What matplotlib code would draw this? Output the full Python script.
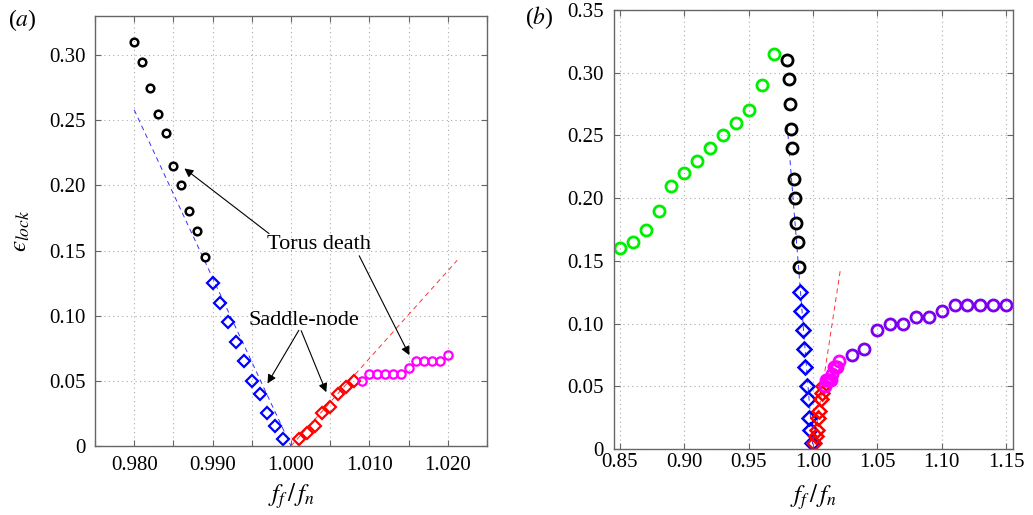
import matplotlib
matplotlib.use("Agg")
import matplotlib.pyplot as plt
import numpy as np

plt.rcParams['font.family'] = ['Liberation Serif', 'DejaVu Serif']
plt.rcParams['mathtext.fontset'] = 'stix'

# ---- data ----
black_x = [0.980, 0.981, 0.982, 0.983, 0.984, 0.985, 0.986, 0.987, 0.988, 0.989]
black_y = [0.310, 0.295, 0.275, 0.255, 0.240, 0.215, 0.200, 0.180, 0.165, 0.145]

blue_x = [0.990, 0.991, 0.992, 0.993, 0.994, 0.995, 0.996, 0.997, 0.998, 0.999]
blue_y = [0.125, 0.110, 0.095, 0.080, 0.065, 0.050, 0.040, 0.025, 0.015, 0.005]

red_x = [1.001, 1.002, 1.003, 1.004, 1.005, 1.006, 1.007, 1.008]
red_y = [0.005, 0.010, 0.015, 0.025, 0.030, 0.040, 0.045, 0.050]

mag_x = [1.009, 1.010, 1.011, 1.012, 1.013, 1.014, 1.015, 1.016, 1.017, 1.018, 1.019, 1.020]
mag_y = [0.050, 0.055, 0.055, 0.055, 0.055, 0.055, 0.060, 0.065, 0.065, 0.065, 0.065, 0.070]

green_x = [0.85, 0.86, 0.87, 0.88, 0.89, 0.90, 0.91, 0.92, 0.93, 0.94, 0.95, 0.96, 0.97]
green_y = [0.160, 0.165, 0.175, 0.190, 0.210, 0.220, 0.230, 0.240, 0.250, 0.260, 0.270, 0.290, 0.315]

purple_x = [1.03, 1.04, 1.05, 1.06, 1.07, 1.08, 1.09, 1.10, 1.11, 1.12, 1.13, 1.14, 1.15]
purple_y = [0.075, 0.080, 0.095, 0.100, 0.100, 0.105, 0.105, 0.110, 0.115, 0.115, 0.115, 0.115, 0.115]

blue_fit_x = [0.980, 1.000]
blue_fit_y = [0.258, 0.000]
red_fit_x = [1.000, 1.0212]
red_fit_y = [0.000, 0.1425]

xticks_a = [0.975, 0.980, 0.985, 0.990, 0.995, 1.000, 1.005, 1.010, 1.015, 1.020, 1.025]
xticklabels_a = ['', '0.980', '', '0.990', '', '1.000', '', '1.010', '', '1.020', '']
yticks_a = [0, 0.05, 0.10, 0.15, 0.20, 0.25, 0.30]
yticklabels_a = ['0', '0.05', '0.10', '0.15', '0.20', '0.25', '0.30']
xticks_b = [0.85, 0.90, 0.95, 1.00, 1.05, 1.10, 1.15]
xticklabels_b = ['0.85', '0.90', '0.95', '1.00', '1.05', '1.10', '1.15']
yticks_b = [0, 0.05, 0.10, 0.15, 0.20, 0.25, 0.30, 0.35]
yticklabels_b = ['0', '0.05', '0.10', '0.15', '0.20', '0.25', '0.30', '0.35']

PURPLE = '#7b00f0'
FS = 15

fig = plt.figure(figsize=(10.33, 5.15), dpi=100)
axa = fig.add_axes([95/1033, 1-446/515, 392/1033, 430/515])
axb = fig.add_axes([613.5/1033, 1-449/515, 399/1033, 439/515])


def style(ax):
    for s in ax.spines.values():
        s.set_color('#666666')
        s.set_linewidth(1.0)
    ax.tick_params(direction='in', top=True, right=True, length=4, width=0.8,
                   color='#666666', labelsize=FS, pad=7)
    ax.grid(True, linestyle=(0, (1, 3)), color='#aaaaaa', linewidth=0.8)
    ax.set_axisbelow(True)


XLABEL = r'$f_f\,/\,f_n$'

# ---- panel a ----
ax = axa
style(ax)
ax.plot(blue_fit_x, blue_fit_y, linestyle=(0, (5, 4)), color='#3333ff', lw=0.7)
ax.plot(red_fit_x, red_fit_y, linestyle=(0, (5, 4)), color='#ff3333', lw=0.7)
ax.plot(black_x, black_y, 'o', mfc='none', mec='black', ms=5.5, mew=1.8)
ax.plot(blue_x, blue_y, 'D', mfc='none', mec='#0000ff', ms=6, mew=1.6)
ax.plot(red_x, red_y, 'D', mfc='none', mec='#ff0000', ms=6, mew=1.6)
ax.plot(mag_x, mag_y, 'o', mfc='none', mec='#ff00ff', ms=6, mew=1.6)
ax.set_xlim(0.975, 1.025)
ax.set_ylim(0, 0.33)
ax.set_xticks(xticks_a)
ax.set_xticklabels(xticklabels_a)
ax.set_yticks(yticks_a)
ax.set_yticklabels(yticklabels_a)
ax.set_xlabel(XLABEL, fontsize=18, labelpad=5)
ax.set_ylabel('$\u03f5_{lock}$', fontsize=18, labelpad=12)

arw = dict(arrowstyle='-|>', color='black', lw=0.8, mutation_scale=13,
           shrinkA=0, shrinkB=0)
ax.text(1.0035, 0.1547, 'Torus death', fontsize=16, ha='center', va='center')
ax.annotate('', xy=(0.9864, 0.213), xytext=(0.9972, 0.163), arrowprops=arw)
ax.annotate('', xy=(1.0151, 0.0697), xytext=(1.0087, 0.146), arrowprops=arw)
ax.text(1.0016, 0.0965, 'Saddle-node', fontsize=16, ha='center', va='center')
ax.annotate('', xy=(0.997, 0.048), xytext=(1.001, 0.0888), arrowprops=arw)
ax.annotate('', xy=(1.0045, 0.0413), xytext=(1.0013, 0.0885), arrowprops=arw)

# ---- panel b ----
ax = axb
style(ax)
ax.plot(blue_fit_x, blue_fit_y, linestyle=(0, (5, 4)), color='#3333ff', lw=0.7)
ax.plot(red_fit_x, red_fit_y, linestyle=(0, (5, 4)), color='#ff3333', lw=0.7)
ax.plot(green_x, green_y, 'o', mfc='none', mec='#00ee00', ms=8, mew=2)
ax.plot(black_x, black_y, 'o', mfc='none', mec='black', ms=8, mew=2)
ax.plot(blue_x, blue_y, 'D', mfc='none', mec='#0000ff', ms=7.5, mew=1.8)
ax.plot(red_x, red_y, 'D', mfc='none', mec='#ff0000', ms=7.5, mew=1.8)
ax.plot(mag_x, mag_y, 'o', mfc='none', mec='#ff00ff', ms=8, mew=2)
ax.plot(purple_x, purple_y, 'o', mfc='none', mec=PURPLE, ms=8, mew=2)
ax.set_xlim(0.845, 1.155)
ax.set_ylim(0, 0.35)
ax.set_xticks(xticks_b)
ax.set_xticklabels(xticklabels_b)
ax.set_yticks(yticks_b)
ax.set_yticklabels(yticklabels_b)
ax.tick_params(axis='x', pad=3)
ax.set_xlabel(XLABEL, fontsize=18, labelpad=7)

fig.text(8/1033, 1-20/515, r'($a$)', fontsize=17, ha='left', va='center')
fig.text(525/1033, 1-18/515, r'($b$)', fontsize=17, ha='left', va='center')

fig.savefig('out.png', dpi=100)
